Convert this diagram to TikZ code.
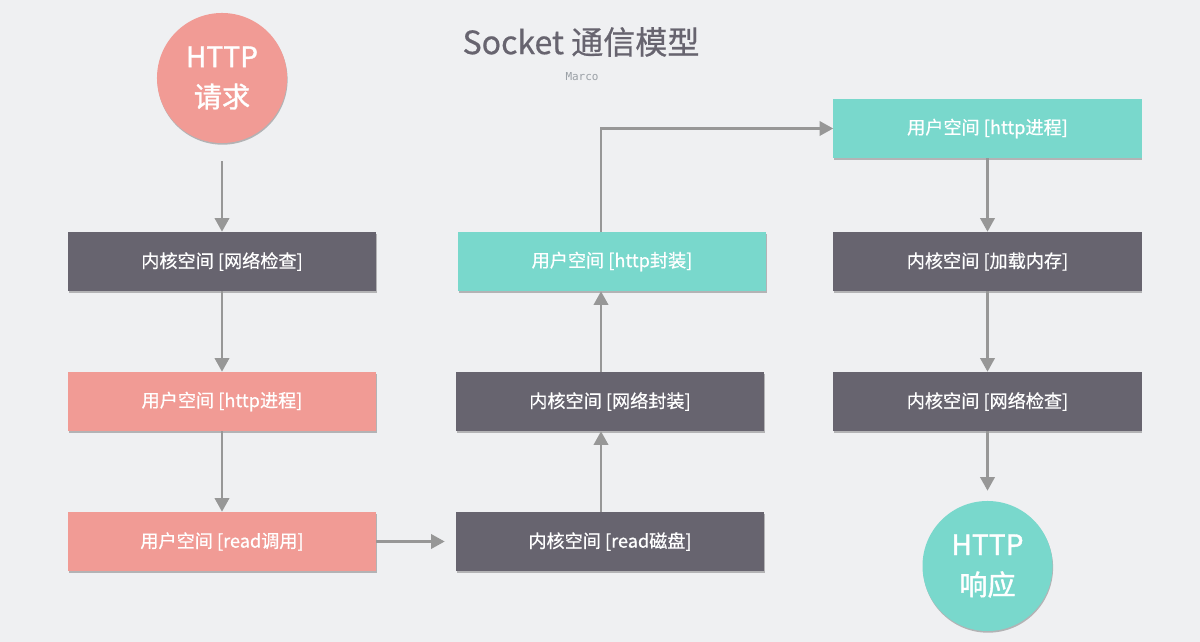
\documentclass[tikz,border=0pt]{standalone}
\usepackage{fontspec}
\setmainfont{Noto Sans CJK SC}
\newfontfamily\boxfont{Noto Sans CJK SC}[FakeBold=0.6]
\newfontfamily\bubblefont{Noto Sans CJK SC}[FakeBold=1.2]
\newfontfamily\markfont{DejaVu Sans Mono}
\usetikzlibrary{arrows.meta,calc,shadows}

\definecolor{bgcol}{HTML}{EFF0F2}
\definecolor{kerncol}{HTML}{67646F}
\definecolor{usrcol}{HTML}{F19B95}
\definecolor{httpcol}{HTML}{79D8CC}
\definecolor{arrowgray}{HTML}{979797}
\definecolor{markcol}{HTML}{9AA0A6}

\tikzset{
  softshadow/.style={drop shadow={shadow xshift=0.4pt,shadow yshift=-1.2pt,opacity=.25,fill=black}},
  box/.style={minimum width=7.7cm,minimum height=1.475cm,inner sep=0pt,text=white,
    font=\boxfont\fontsize{12.9pt}{15pt}\selectfont,softshadow},
  bubble/.style={circle,minimum size=3.25cm,inner sep=0pt,text=white,align=center,
    font=\bubblefont\fontsize{20pt}{28.5pt}\selectfont,softshadow},
  flow/.style={draw=arrowgray,line width=1.7pt,-{Triangle[length=0.34cm,width=0.36cm]}}
}

\begin{document}
\begin{tikzpicture}[x=0.025cm,y=-0.025cm]

\fill[bgcol] (0,0) rectangle (1200,642);

\node[text=kerncol,font=\boxfont\fontsize{22.8pt}{26pt}\selectfont] (title) at (581,42) {Socket 通信模型};
\node[text=markcol,font=\markfont\fontsize{7.8pt}{9pt}\selectfont] (author) at (582,77) {Marco};

\node[bubble,fill=usrcol] (req) at (222,78) {HTTP\\请求};
\node[bubble,fill=httpcol] (resp) at (987.5,566) {HTTP\\响应};

\foreach \nm/\x/\y/\c/\t in
  {chk/222/261.5/kerncol/内核空间 [网络检查],
   uproc/222/401.5/usrcol/用户空间 [http进程],
   uread/222/541.5/usrcol/用户空间 [read调用],
   kread/610/541.5/kerncol/内核空间 [read磁盘],
   kpack/610/401.5/kerncol/内核空间 [网络封装],
   upack/612/261.5/httpcol/用户空间 [http封装],
   uproc2/987.5/128.5/httpcol/用户空间 [http进程],
   kload/987.5/261.5/kerncol/内核空间 [加载内存],
   kchk2/987.5/401.5/kerncol/内核空间 [网络检查]}
  \node[box,fill=\c] (\nm) at (\x,\y) {\t};

% left column
\draw[flow,shorten <=0.45cm] (req) -- (chk);
\draw[flow] (chk) -- (uproc);
\draw[flow] (uproc) -- (uread);
\draw[flow,shorten >=0.275cm] (uread) -- (kread);

% middle column, going up
\draw[flow] ($(kread.north)+(-9,0)$) -- ($(kpack.south)+(-9,0)$);
\draw[flow] ($(kpack.north)+(-9,0)$) -- ($(upack.south)+(-11,0)$);
\draw[flow] ($(upack.north)+(-11,0)$) |- (uproc2.west);

% right column
\draw[flow] (uproc2) -- (kload);
\draw[flow] (kload) -- (kchk2);
\draw[flow,shorten >=0.25cm] (kchk2) -- (resp);

\end{tikzpicture}
\end{document}
